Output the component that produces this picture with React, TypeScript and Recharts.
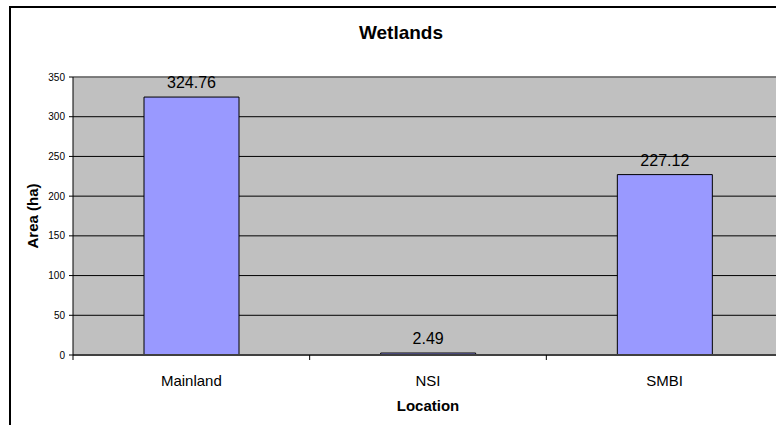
import React from 'react';
import { BarChart, Bar, XAxis, YAxis, CartesianGrid, LabelList, ReferenceLine } from 'recharts';

const locations = ['Mainland', 'NSI', 'SMBI'];
const areas = [324.76, 2.49, 227.12];
const yTicks = [0, 50, 100, 150, 200, 250, 300, 350];

const data = locations.map((name, i) => ({ name, area: areas[i] }));

const FONT = '"Liberation Sans", Arial, sans-serif';
const X_TICK_MARGIN = 20;

// category label plus Excel-style tick marks on the category boundaries
const CategoryTick = (props: any) => {
  const { x, y, payload, index, visibleTicksCount } = props;
  const half = payload.offset || 0;
  const axisY = y - X_TICK_MARGIN;
  const last = index === visibleTicksCount - 1;
  return (
    <g>
      <line x1={x - half} x2={x - half} y1={axisY} y2={axisY + 5} stroke="#000" />
      {last && <line x1={x + half} x2={x + half} y1={axisY} y2={axisY + 5} stroke="#000" />}
      <text x={x} y={y} dy="0.71em" textAnchor="middle" fontSize={15} fill="#000">
        {payload.value}
      </text>
    </g>
  );
};

const App: React.FC = () => {
  return (
    <div style={{ position: 'absolute', left: 0, top: 0, width: 776, height: 425, overflow: 'hidden', background: '#fff', fontFamily: FONT }}>
      <div style={{ position: 'absolute', left: 9, top: 6, width: 804, height: 444, border: '2px solid #000', boxSizing: 'border-box' }}>
        <div style={{ position: 'absolute', left: 0, top: 14, width: 780, textAlign: 'center', fontSize: 19, fontWeight: 'bold', color: '#000' }}>
          Wetlands
        </div>
        <BarChart
          width={800}
          height={440}
          data={data}
          margin={{ top: 69, right: 28, left: 0, bottom: 0 }}
          barCategoryGap="30%"
          style={{ fontFamily: FONT }}
        >
          <CartesianGrid vertical={false} stroke="#000" fill="#C0C0C0" fillOpacity={1} />
          <ReferenceLine y={350} stroke="#808080" strokeWidth={1.5} />
          <XAxis
            dataKey="name"
            tickLine={false}
            tickSize={0}
            tickMargin={X_TICK_MARGIN}
            axisLine={{ stroke: '#404040', strokeWidth: 2 }}
            tick={<CategoryTick />}
            height={93}
            label={{
              content: (props: any) => {
                const vb = props.viewBox;
                return (
                  <text x={vb.x + vb.width / 2} y={vb.y + 56} textAnchor="middle" fontSize={15} fontWeight="bold" fill="#000">
                    Location
                  </text>
                );
              },
            }}
          />
          <YAxis
            domain={[0, 350]}
            ticks={yTicks}
            width={62}
            tickSize={4}
            tickMargin={4}
            axisLine={{ stroke: '#000' }}
            tickLine={{ stroke: '#000' }}
            tick={{ fill: '#000', fontSize: 10 }}
            label={{
              content: (props: any) => {
                const vb = props.viewBox;
                const cx = vb.x + 21;
                const cy = vb.y + vb.height / 2;
                return (
                  <text x={cx} y={cy} transform={`rotate(-90 ${cx} ${cy})`} textAnchor="middle" dominantBaseline="central" fontSize={15} fontWeight="bold" fill="#000">
                    Area (ha)
                  </text>
                );
              },
            }}
          />
          <Bar dataKey="area" fill="#9999FF" stroke="#000" strokeWidth={1} isAnimationActive={false}>
            <LabelList dataKey="area" position="top" offset={9} fill="#000" fontSize={16} />
          </Bar>
        </BarChart>
      </div>
    </div>
  );
};

export default App;
